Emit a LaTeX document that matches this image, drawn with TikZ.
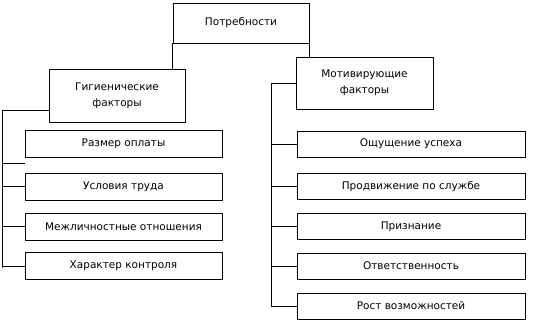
\documentclass[tikz,border=0pt]{standalone}
\usepackage{fontspec}
\setmainfont{DejaVu Sans}
\usetikzlibrary{calc}

\begin{document}
\begin{tikzpicture}[x=1pt,y=-1pt,line width=0.8pt,
    box/.style={draw,inner sep=0pt,align=center,font=\fontsize{10.5}{16}\selectfont},
    item/.style={box,minimum height=27pt}]
    \useasboundingbox (0,0) rectangle (534,322);
    % top level
    \node[box,minimum width=136pt,minimum height=40pt] (need) at (241,23) {Потребности};
    \node[box,minimum width=136pt,minimum height=53pt] (hyg) at (117,95.5) {Гигиенические\\факторы};
    \node[box,minimum width=137pt,minimum height=52pt] (mot) at (364.5,83) {Мотивирующие\\факторы};
    \draw (need.south west) -- (need.south west |- hyg.north);
    \draw (need.south east) -- (need.south east |- mot.north);
    % left column
    \node[item,minimum width=197pt] (pay) at (123.5,143.5) {Размер оплаты};
    \node[item,minimum width=197pt] (cond) at (123.5,186.5) {Условия труда};
    \node[item,minimum width=197pt] (rel) at (123.5,226.5) {Межличностные отношения};
    \node[item,minimum width=197pt] (ctrl) at (123.5,266) {Характер контроля};
    \coordinate (ltop) at (2,110);
    \coordinate (lbot) at (2,268);
    \draw (hyg.west |- ltop) -- (ltop) -- (lbot);
    \draw (2,163) -- (pay.south west |- 0,163);
    \foreach \n in {cond,rel,ctrl}
        \draw (\n.west) -- (\n.west -| ltop);
    % right column
    \node[item,minimum width=228pt,minimum height=26pt] (succ) at (411,144) {Ощущение успеха};
    \node[item,minimum width=228pt,minimum height=26pt] (prom) at (411,186.5) {Продвижение по службе};
    \node[item,minimum width=228pt,minimum height=26pt] (recog) at (411,226.5) {Признание};
    \node[item,minimum width=228pt,minimum height=26pt] (resp) at (411,266) {Ответственность};
    \node[item,minimum width=228pt,minimum height=26pt] (grow) at (411,306) {Рост возможностей};
    \coordinate (rtop) at (271,83);
    \coordinate (rbot) at (271,307);
    \draw (mot.west) -- (rtop) -- (rbot);
    \foreach \n in {succ,prom,recog,resp,grow}
        \draw (\n.west) -- (\n.west -| rtop);
\end{tikzpicture}
\end{document}
